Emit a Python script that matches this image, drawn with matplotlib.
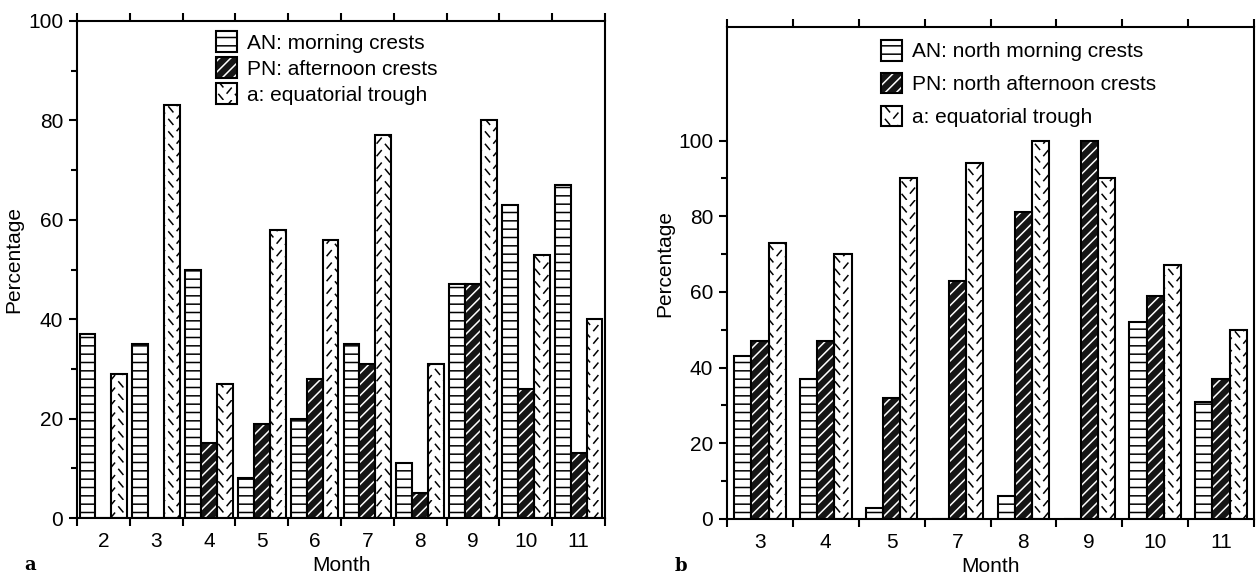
import warnings
import numpy as np
import matplotlib
matplotlib.use('Agg')
import matplotlib.pyplot as plt
from matplotlib import hatch as mhatch
from matplotlib.path import Path

warnings.filterwarnings('ignore', message='.*hatch must consist.*')

plt.rcParams['font.family'] = ['Liberation Sans', 'DejaVu Sans']
plt.rcParams['hatch.linewidth'] = 1.1

# panel a
months_a = ['2', '3', '4', '5', '6', '7', '8', '9', '10', '11']
an_a = [37, 35, 50, 8, 20, 35, 11, 47, 63, 67]
pn_a = [0, 0, 15, 19, 28, 31, 5, 47, 26, 13]
eq_a = [29, 83, 27, 58, 56, 77, 31, 80, 53, 40]
labels_a = ['AN: morning crests', 'PN: afternoon crests', 'a: equatorial trough']

# panel b
months_b = ['3', '4', '5', '7', '8', '9', '10', '11']
an_b = [43, 37, 3, 0, 6, 0, 52, 31]
pn_b = [47, 47, 32, 63, 81, 100, 59, 37]
eq_b = [73, 70, 90, 94, 100, 90, 67, 50]
labels_b = ['AN: north morning crests', 'PN: north afternoon crests',
            'a: equatorial trough']


class TroughDashes(mhatch.HatchPatternBase):
    """short staggered dashes, used for the trough bars (hatch char 'z')"""

    def __init__(self, hatch, density):
        n = hatch.count('z')
        self.ncols = n * 12
        self.nrows = n * 8
        self.num_vertices = self.ncols * self.nrows * 2

    def set_vertices_and_codes(self, vertices, codes):
        sx = 1.0 / self.ncols
        sy = 1.0 / self.nrows
        ci, ri = np.meshgrid(np.arange(self.ncols), np.arange(self.nrows))
        ci = ci.ravel()
        ri = ri.ravel()
        odd = ci % 2 == 1
        cx = (ci + 0.5) * sx
        cy = np.where(odd, (ri + 0.75) * sy, (ri + 0.25) * sy)
        dx = 0.25 * sx
        dy = 0.2 * sy
        sign = np.where(odd, -1.0, 1.0)
        vertices[0::2, 0] = cx - dx
        vertices[0::2, 1] = cy + sign * dy
        vertices[1::2, 0] = cx + dx
        vertices[1::2, 1] = cy - sign * dy
        codes[0::2] = Path.MOVETO
        codes[1::2] = Path.LINETO


mhatch._hatch_types.append(TroughDashes)

FS = 15
LW = 1.5


def draw_panel(ax, months, an, pn, eq, labels, width, ymax, letter, leg_x,
               leg_y, leg_space):
    x = np.arange(len(months))
    centre = x + 0.5
    ax.bar(centre - width, an, width, color='white', edgecolor='black',
           hatch='--', linewidth=LW, zorder=2)
    # dark bars with white diagonal lines: hatch layer + black outline on top
    dark = ax.bar(centre, pn, width, color='#151515', edgecolor='white',
                  hatch='///', linewidth=0, zorder=2)
    outline = ax.bar(centre, pn, width, fill=False, edgecolor='black',
                     linewidth=LW, zorder=3)
    ax.bar(centre + width, eq, width, color='white', edgecolor='black',
           hatch='z', linewidth=LW, zorder=2)

    ax.set_xlim(0, len(months))
    ax.set_ylim(0, ymax)
    ax.set_xticks(centre)
    ax.set_xticklabels(months, fontsize=FS)
    ax.set_xticks(np.arange(len(months) + 1), minor=True)
    ax.tick_params(axis='x', which='major', length=0, pad=10)
    ax.tick_params(axis='x', which='minor', length=6, width=LW,
                   direction='out', top=True, bottom=True)
    ax.set_yticks(np.arange(0, 101, 20))
    ax.set_yticks(np.arange(10, 100, 20), minor=True)
    ax.tick_params(axis='y', which='major', length=6, width=LW,
                   direction='out', labelsize=FS, pad=4)
    ax.tick_params(axis='y', which='minor', length=4, width=LW,
                   direction='out')
    for s in ax.spines.values():
        s.set_linewidth(LW)

    ax.set_xlabel('Month', fontsize=FS, labelpad=4)
    ax.set_ylabel('Percentage', fontsize=FS)
    ax.yaxis.set_label_coords(-0.101, 0.52)

    ax.text(-0.1, -0.095, letter, transform=ax.transAxes, fontsize=13,
            fontweight='bold', family='DejaVu Serif', va='center')

    handles = [ax.patches[0], (dark[0], outline[0]), ax.patches[-1]]
    ax.legend(handles, labels, loc='upper left',
              bbox_to_anchor=(leg_x, leg_y),
              frameon=False, fontsize=FS, handlelength=1.0, handleheight=1.15,
              handletextpad=0.5, labelspacing=leg_space, borderaxespad=0.1)


fig = plt.figure(figsize=(12.56, 5.74), dpi=100)
ax_a = fig.add_axes([77 / 1256, 56 / 574, 528 / 1256, 497 / 574])
ax_b = fig.add_axes([727 / 1256, 55 / 574, 527 / 1256, 492 / 574])

draw_panel(ax_a, months_a, an_a, pn_a, eq_a, labels_a, 0.3, 100, 'a', 0.243,
           1.0, 0.22)
draw_panel(ax_b, months_b, an_b, pn_b, eq_b, labels_b, 0.26, 130, 'b', 0.272,
           0.995, 0.55)

fig.savefig('out.png', dpi=100)
